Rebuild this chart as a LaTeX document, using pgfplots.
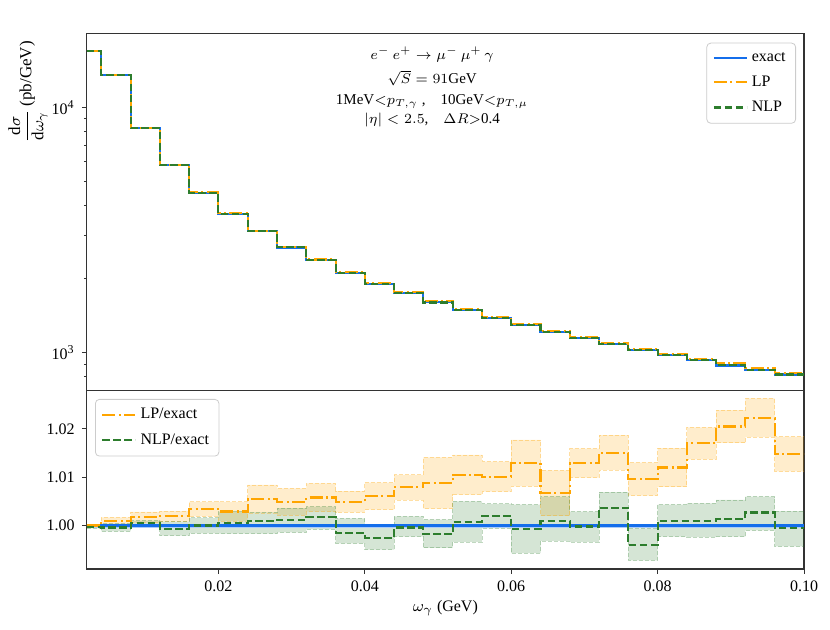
\documentclass[border=0pt]{standalone}
\usepackage{pgfplots}
\pgfplotsset{compat=1.18}
\usepackage{pgfplotstable}
\usepgfplotslibrary{fillbetween}
\usepackage{fontspec}
\setmainfont{Liberation Serif}
\definecolor{cexact}{RGB}{20,110,235}
\definecolor{clp}{RGB}{255,165,0}
\definecolor{cnlp}{RGB}{45,125,45}
\newcommand\fs{\fontsize{8}{9.6}\selectfont}
\newcommand\fa{\fontsize{7.5}{9}\selectfont}

\pgfplotstableread{
x E LP NLP rLP rLPu rLPl rNLP rNLPu rNLPl
0.002 17030 17030 17025 1.0000 1.0003 0.9997 0.9997 1.0000 0.9994
0.004 13550 13562 13545 1.0009 1.0017 1.0001 0.9996 1.0004 0.9988
0.008 8210 8224 8214 1.0017 1.0028 1.0006 1.0005 1.0010 1.0000
0.012 5824 5835 5820 1.0019 1.0030 1.0008 0.9993 1.0008 0.9979
0.016 4497 4512 4497 1.0034 1.0049 1.0019 1.0000 1.0016 0.9984
0.020 3690 3701 3692 1.0029 1.0049 1.0009 1.0006 1.0029 0.9983
0.024 3123 3140 3126 1.0055 1.0084 1.0026 1.0009 1.0027 0.9983
0.028 2686 2699 2689 1.0049 1.0077 1.0021 1.0012 1.0036 0.9986
0.032 2384 2398 2388 1.0058 1.0087 1.0029 1.0018 1.0039 0.9992
0.036 2117 2127 2114 1.0049 1.0071 1.0027 0.9985 1.0015 0.9963
0.040 1914 1926 1909 1.0061 1.0089 1.0033 0.9975 1.0001 0.9950
0.044 1752 1766 1751 1.0079 1.0105 1.0053 0.9996 1.0019 0.9977
0.048 1605 1619 1602 1.0088 1.0141 1.0035 0.9982 1.0012 0.9954
0.052 1489 1505 1490 1.0105 1.0146 1.0064 1.0008 1.0050 0.9966
0.056 1386 1400 1389 1.0101 1.0132 1.0070 1.0020 1.0045 0.9994
0.060 1293 1310 1292 1.0129 1.0177 1.0081 0.9993 1.0043 0.9943
0.064 1215 1223 1216 1.0067 1.0114 1.0020 1.0010 1.0060 0.9968
0.068 1144 1159 1144 1.0129 1.0159 1.0099 0.9998 1.0029 0.9966
0.072 1081 1097 1085 1.0151 1.0187 1.0115 1.0037 1.0069 1.0001
0.076 1026 1036 1022 1.0096 1.0130 1.0062 0.9960 0.9994 0.9928
0.080 975 987 976 1.0120 1.0160 1.0080 1.0010 1.0043 0.9977
0.084 930 946 931 1.0170 1.0203 1.0137 1.0010 1.0046 0.9976
0.088 887 905 888 1.0205 1.0239 1.0171 1.0013 1.0053 0.9977
0.092 849 868 851 1.0223 1.0263 1.0183 1.0027 1.0060 0.9990
0.096 815 827 815 1.0148 1.0184 1.0112 0.9994 1.0030 0.9957
0.100 815 827 815 1.0148 1.0184 1.0112 0.9994 1.0030 0.9957
}\data

\tikzset{ann/.style={anchor=base, font=\fa, inner sep=0pt}}
\pgfplotsset{
  common/.style={
    scale only axis, width=358.65pt,
    xmin=0.002, xmax=0.1,
    axis line style={black!80, line width=0.55pt},
    tick align=outside, tick pos=left,
    major tick length=2.45pt, minor tick length=1.4pt,
    every tick/.style={black!80, line width=0.5pt},
    every minor tick/.style={black!80, line width=0.4pt},
    tick label style={font=\fs},
    /pgf/number format/assume math mode=true,
    scaled x ticks=false, scaled y ticks=false,
    legend cell align=left,
    legend image code/.code={\draw[#1] (0pt,0pt) -- (16.5pt,0pt);},
    legend style={font=\fs, draw=black!20, rounded corners=2pt, fill=white,
      fill opacity=0.8, text opacity=1, inner xsep=3pt, inner ysep=2.5pt,
      row sep=1.8pt},
  },
  lpstyle/.style={clp, line width=1.05pt, dash pattern=on 6.5pt off 1.7pt on 1pt off 1.7pt},
  nlpstyle/.style={cnlp, line width=1.05pt, dash pattern=on 3.8pt off 1.7pt},
  exstyle/.style={cexact, line width=1.05pt},
}

\begin{document}
\begin{tikzpicture}
\begin{axis}[common, name=top, height=178.7pt,
  ymode=log, ymin=700, ymax=20060,
  xtick=\empty,
  ytick={1000,10000}, yticklabels={10\textsuperscript{3},10\textsuperscript{4}},
  minor ytick={800,900,2000,3000,4000,5000,6000,7000,8000,9000},
  ylabel={$\displaystyle\frac{\mathrm{d}\sigma}{\mathrm{d}\omega_\gamma}$\,(pb/GeV)},
  ylabel style={at={(rel axis cs:-0.0818,0.836)}, anchor=center, font=\fontsize{8.5}{10}\selectfont},
  legend style={at={(rel axis cs:0.9889,0.9737)}, anchor=north east},
  clip=false,
]
\addplot[exstyle, const plot] table[x=x,y=E]{\data};
\addlegendentry{exact}
\addplot[lpstyle, const plot] table[x=x,y=LP]{\data};
\addlegendentry{LP}
\addplot[nlpstyle, const plot] table[x=x,y=NLP]{\data};
\addlegendentry{NLP}
\node[ann] at (rel axis cs:0.4815,0.9253) {$e^{-}\,e^{+}\to\mu^{-}\,\mu^{+}\,\gamma$};
\node[ann] at (rel axis cs:0.4815,0.8582) {$\sqrt{S}=91$GeV};
\node[ann] at (rel axis cs:0.4815,0.7994) {1MeV$<$$p_{T,\gamma}$ ,\quad 10GeV$<$$p_{T,\mu}$};
\node[ann] at (rel axis cs:0.4815,0.7490) {$|\eta|<2.5$,\quad $\Delta R$$>$0.4};
\end{axis}

\begin{axis}[common, name=bot, at={(top.south west)}, anchor=north west, height=89.15pt,
  ymin=0.991, ymax=1.0279,
  xtick={0.02,0.04,0.06,0.08,0.10},
  ytick={1.00,1.01,1.02},
  xticklabel style={/pgf/number format/.cd, fixed, fixed zerofill, precision=2},
  yticklabel style={/pgf/number format/.cd, fixed, fixed zerofill, precision=2},
  xlabel={$\omega_\gamma$ (GeV)},
  xlabel style={at={(rel axis cs:0.5,-0.219)}, anchor=center, font=\fs},
  legend style={at={(rel axis cs:0.0116,0.9535)}, anchor=north west},
]
\addplot[const plot, name path=lpu, draw=clp, draw opacity=0.35, line width=0.4pt, dash pattern=on 2pt off 1pt, forget plot] table[x=x,y=rLPu]{\data};
\addplot[const plot, name path=lpl, draw=clp, draw opacity=0.35, line width=0.4pt, dash pattern=on 2pt off 1pt, forget plot] table[x=x,y=rLPl]{\data};
\addplot[clp, fill opacity=0.2, draw=none, forget plot] fill between[of=lpu and lpl];
\addplot[const plot, name path=nlpu, draw=cnlp, draw opacity=0.3, line width=0.4pt, dash pattern=on 2pt off 1pt, forget plot] table[x=x,y=rNLPu]{\data};
\addplot[const plot, name path=nlpl, draw=cnlp, draw opacity=0.3, line width=0.4pt, dash pattern=on 2pt off 1pt, forget plot] table[x=x,y=rNLPl]{\data};
\addplot[cnlp, fill opacity=0.2, draw=none, forget plot] fill between[of=nlpu and nlpl];
\addplot[cexact!35, line width=2pt, forget plot] coordinates {(0.002,1) (0.1,1)};
\addplot[exstyle, forget plot] coordinates {(0.002,1) (0.1,1)};
\addplot[lpstyle, const plot] table[x=x,y=rLP]{\data};
\addlegendentry{LP/exact}
\addplot[nlpstyle, const plot] table[x=x,y=rNLP]{\data};
\addlegendentry{NLP/exact}
\end{axis}

\path (top.north west) ++(-43.35pt,16.65pt) coordinate (A);
\path (bot.south east) ++(13pt,-30pt) coordinate (B);
\pgfresetboundingbox
\path[use as bounding box] (A) rectangle (B);
\end{tikzpicture}
\end{document}
